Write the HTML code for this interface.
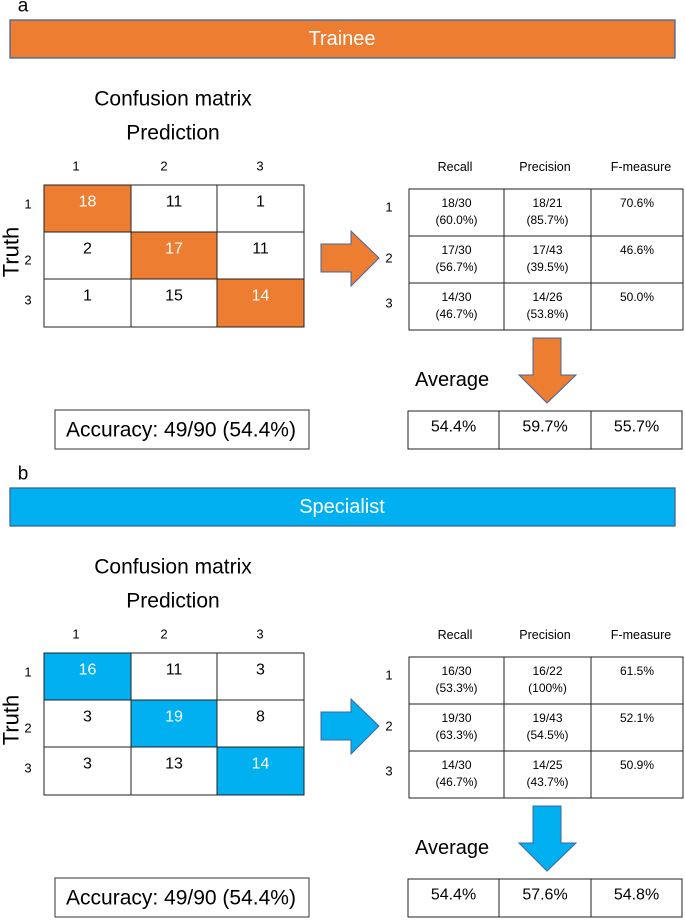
<!DOCTYPE html>
<html><head><meta charset="utf-8"><style>
html,body{margin:0;padding:0;background:#fff}
svg{display:block;font-family:"Liberation Sans",sans-serif}
</style></head><body>
<svg id="fig" width="685" height="920" viewBox="0 0 685 920" xmlns="http://www.w3.org/2000/svg"></svg>
<script>
const panelLetters = ["a","b"];
const panelTitles = ["Trainee","Specialist"];
const panelColors = ["#ed7d31","#00b0f0"];
const classLabels = ["1","2","3"];
const matrixA = [[18,11,1],[2,17,11],[1,15,14]];
const matrixB = [[16,11,3],[3,19,8],[3,13,14]];
const recallA = ["18/30","(60.0%)","17/30","(56.7%)","14/30","(46.7%)"];
const precisionA = ["18/21","(85.7%)","17/43","(39.5%)","14/26","(53.8%)"];
const fmeasureA = ["70.6%","46.6%","50.0%"];
const recallB = ["16/30","(53.3%)","19/30","(63.3%)","14/30","(46.7%)"];
const precisionB = ["16/22","(100%)","19/43","(54.5%)","14/25","(43.7%)"];
const fmeasureB = ["61.5%","52.1%","50.9%"];
const averageA = ["54.4%","59.7%","55.7%"];
const averageB = ["54.4%","57.6%","54.8%"];
const accuracyText = ["Accuracy: 49/90 (54.4%)","Accuracy: 49/90 (54.4%)"];
const metricHeaders = ["Recall","Precision","F-measure"];

const svg = document.getElementById('fig');
const NS = "http://www.w3.org/2000/svg";
function el(tag, attrs, parent){const e=document.createElementNS(NS,tag);for(const k in attrs)e.setAttribute(k,attrs[k]);(parent||svg).appendChild(e);return e;}
function txt(x,y,s,size,fill,anchor,parent){const t=el('text',{x:x,y:y,'font-size':size,fill:fill||'#000','text-anchor':anchor||'middle','dominant-baseline':'central'},parent);t.textContent=s;return t;}

const matrices=[matrixA,matrixB], recalls=[recallA,recallB], precs=[precisionA,precisionB], fms=[fmeasureA,fmeasureB], avgs=[averageA,averageB];
const mCols=[44,131,217,304], mRows=[185,232,279,327];
const tCols=[409,504,591,683], tRows=[189,236,283,330];
const aCols=[408,499,591,682];

for(let p=0;p<2;p++){
  const oy = p*468;
  const g = el('g',{transform:`translate(0,${oy})`});
  
  
  const c = panelColors[p];
  const L = txt(23,6,panelLetters[p],19,'#000','middle',g);
   
  const bar = el('rect',{x:10,y:20,width:665,height:38,fill:c,stroke:'#41659b','stroke-width':1.3},g);
   
  const bt = txt(342,39,panelTitles[p],20,'#fff','middle',g);
   
  const cm = txt(173,99,'Confusion matrix',21,'#000','middle',g);
   
  const pr = txt(173,133,'Prediction',21,'#000','middle',g);
   
  const tr = txt(0,0,'Truth',22,'#000','middle',g);
  tr.setAttribute('transform','translate(11,252) rotate(-90)');
   
  const M = matrices[p];
  for(let i=0;i<3;i++){
    const cl = txt([76,164,260][i],166,classLabels[i],13,'#000','middle',g);
     
    const rl = txt(28,[204,260,300][i],classLabels[i],13,'#000','middle',g);
     
    for(let j=0;j<3;j++){
      const r = el('rect',{x:mCols[j],y:mRows[i],width:mCols[j+1]-mCols[j],height:mRows[i+1]-mRows[i],fill:i===j?c:'#fff',stroke:'#222','stroke-width':1},g);
       
      const t = txt((mCols[j]+mCols[j+1])/2,mRows[i]+17,String(M[i][j]),16,i===j?'#fff':'#000','middle',g);
       
    }
  }
  const ab = el('rect',{x:55,y:410,width:254,height:39,fill:'#fff',stroke:'#555','stroke-width':1.2},g);
   
  const at = txt(181,430,accuracyText[p],21,'#000','middle',g);
   
  const ra = el('polygon',{points:'321,244 351,244 351,231 379,258 351,286 351,272 321,272',fill:c,stroke:'#41659b','stroke-width':1},g);
   
  for(let k=0;k<3;k++){
    const h = txt([455,545,641][k],167,metricHeaders[k],12.5,'#000','middle',g);
     
    const rl = txt(389,[207,258,303][k],classLabels[k],13,'#000','middle',g);
     
  }
  const cols=[recalls[p],precs[p]];
  for(let i=0;i<3;i++){
    for(let j=0;j<3;j++){
      const r = el('rect',{x:tCols[j],y:tRows[i],width:tCols[j+1]-tCols[j],height:tRows[i+1]-tRows[i],fill:'#fff',stroke:'#222','stroke-width':1},g);
       
      const cx=(tCols[j]+tCols[j+1])/2;
      if(j<2){
        const t1=txt(cx,tRows[i]+14,cols[j][i*2],12,'#000','middle',g);
         
        const t2=txt(cx,tRows[i]+31,cols[j][i*2+1],12,'#000','middle',g);
         
      } else {
        const t1=txt(cx,tRows[i]+14,fms[p][i],12,'#000','middle',g);
         
      }
    }
  }
  const da = el('polygon',{points:'533,338 561,338 561,375 576,375 547,403 519,375 533,375',fill:c,stroke:'#41659b','stroke-width':1},g);
   
  const av = txt(415,380,'Average',20,'#000','start',g);
   
  for(let j=0;j<3;j++){
    const r = el('rect',{x:aCols[j],y:411,width:aCols[j+1]-aCols[j],height:38,fill:'#fff',stroke:'#222','stroke-width':1},g);
     
    const t = txt((aCols[j]+aCols[j+1])/2,427,avgs[p][j],16,'#000','middle',g);
     
  }
}
</script>
</body></html>
